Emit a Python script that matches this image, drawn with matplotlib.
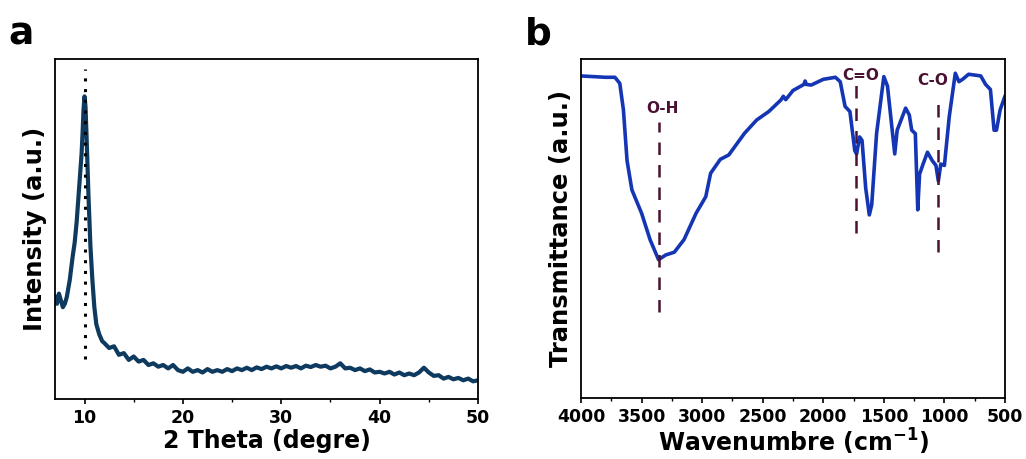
import matplotlib
matplotlib.use("Agg")
import matplotlib.pyplot as plt
from matplotlib.ticker import MultipleLocator

plt.rcParams['font.family'] = ['DejaVu Sans']
plt.rcParams['font.weight'] = 'bold'
plt.rcParams['mathtext.default'] = 'bf'

# ---- XRD data (a) ----
xrd_theta = [7.0, 7.2, 7.4, 7.6, 7.8, 8.0, 8.2, 8.5, 8.8, 9.0, 9.2, 9.4, 9.6, 9.7, 9.8, 9.9,
             10.0, 10.1, 10.2, 10.4, 10.6, 10.8, 11.0, 11.2, 11.5, 11.8,
             12.0, 12.5, 13.0, 13.5, 14.0, 14.5, 15.0, 15.5, 16.0, 16.5, 17.0, 17.5, 18.0, 18.5,
             19.0, 19.5, 20.0, 20.5, 21.0, 21.5, 22.0, 22.5, 23.0, 23.5, 24.0, 24.5, 25.0, 25.5,
             26.0, 26.5, 27.0, 27.5, 28.0, 28.5, 29.0, 29.5, 30.0, 30.5, 31.0, 31.5, 32.0, 32.5,
             33.0, 33.5, 34.0, 34.5, 35.0, 35.5, 36.0, 36.5, 37.0, 37.5, 38.0, 38.5, 39.0, 39.5,
             40.0, 40.5, 41.0, 41.5, 42.0, 42.5, 43.0, 43.5, 44.0, 44.5, 45.0, 45.5, 46.0, 46.5,
             47.0, 47.5, 48.0, 48.5, 49.0, 49.5, 50.0]
xrd_int = [0.30, 0.28, 0.31, 0.29, 0.27, 0.28, 0.30, 0.35, 0.42, 0.46, 0.52, 0.60, 0.68, 0.72, 0.78, 0.85,
           0.89, 0.86, 0.78, 0.60, 0.45, 0.35, 0.27, 0.22, 0.19, 0.17,
           0.165, 0.15, 0.155, 0.13, 0.135, 0.115, 0.125, 0.11, 0.115, 0.10, 0.105, 0.095, 0.10, 0.09,
           0.10, 0.085, 0.08, 0.09, 0.08, 0.085, 0.078, 0.088, 0.08, 0.085, 0.08, 0.088, 0.082, 0.09,
           0.085, 0.092, 0.085, 0.093, 0.088, 0.095, 0.09, 0.096, 0.09, 0.097, 0.092, 0.097, 0.09, 0.098,
           0.094, 0.10, 0.095, 0.098, 0.09, 0.095, 0.105, 0.09, 0.092, 0.085, 0.09, 0.082, 0.087, 0.078,
           0.08, 0.075, 0.08, 0.072, 0.078, 0.07, 0.075, 0.07, 0.078, 0.092, 0.078, 0.068, 0.07, 0.06,
           0.065, 0.058, 0.062, 0.055, 0.06, 0.052, 0.055]
xrd_peak = 10.0

# ---- FTIR data (b) ----
ir_wn = [4000, 3800, 3720, 3680, 3650, 3620, 3580, 3500, 3430, 3360, 3300, 3230, 3150, 3050,
         2970, 2930, 2850, 2780, 2650, 2550, 2450, 2350, 2330, 2310, 2250, 2160, 2150, 2140, 2100,
         2000, 1900, 1860, 1820, 1780, 1740, 1725, 1700, 1680, 1650, 1620, 1600, 1560, 1500,
         1470, 1440, 1410, 1390, 1320, 1290, 1270, 1240, 1220, 1205, 1180, 1140, 1100, 1070,
         1050, 1030, 1000, 960, 910, 880, 850, 800, 700, 660, 620, 590, 570, 540, 500]
ir_tr = [0.95, 0.946, 0.946, 0.928, 0.85, 0.70, 0.614, 0.545, 0.467, 0.408, 0.422, 0.43, 0.467, 0.545,
         0.594, 0.663, 0.704, 0.717, 0.781, 0.82, 0.845, 0.879, 0.89, 0.88, 0.907, 0.925, 0.935, 0.925, 0.923,
         0.94, 0.946, 0.933, 0.86, 0.845, 0.73, 0.72, 0.77, 0.76, 0.62, 0.54, 0.57, 0.78, 0.948,
         0.92, 0.82, 0.72, 0.79, 0.855, 0.835, 0.79, 0.78, 0.555, 0.66, 0.686, 0.725, 0.70, 0.686,
         0.64, 0.69, 0.686, 0.83, 0.958, 0.933, 0.94, 0.955, 0.95, 0.925, 0.91, 0.79, 0.79, 0.85, 0.89]

band_labels = ['O-H', 'C=O', 'C-O']
band_pos = [3360, 1730, 1055]
band_line_lo = [0.255, 0.486, 0.432]
band_line_hi = [0.815, 0.94, 0.894]
band_text_x = [3330, 1690, 1100]
band_text_y = [0.855, 0.95, 0.938]

ann_color = '#4a1232'

fig = plt.figure(figsize=(10.26, 4.59), dpi=100)
ax1 = fig.add_axes([0.0536, 0.1307, 0.4123, 0.7408])
ax2 = fig.add_axes([0.5663, 0.1329, 0.4132, 0.7386])

# panel a
ax1.plot(xrd_theta, xrd_int, color='#0d3a5e', lw=3.0)
ax1.plot([xrd_peak, xrd_peak], [0.118, 0.97], color='black', ls=(0, (1, 2.5)), lw=2.2)
ax1.set_xlim(7, 50)
ax1.set_ylim(0, 1)
ax1.xaxis.set_major_locator(MultipleLocator(10))
ax1.xaxis.set_minor_locator(MultipleLocator(5))
ax1.set_yticks([])
ax1.set_xlabel('2 Theta (degre)', fontsize=17, fontweight='bold', labelpad=1)
ax1.set_ylabel('Intensity (a.u.)', fontsize=17.5, fontweight='bold', labelpad=6)

# panel b
ax2.plot(ir_wn, ir_tr, color='#1536b4', lw=2.6)
for lab, p, lo, hi, tx, ty in zip(band_labels, band_pos, band_line_lo, band_line_hi, band_text_x, band_text_y):
    ax2.plot([p, p], [lo, hi], color=ann_color, ls=(0, (5, 4)), lw=1.8)
    ax2.text(tx, ty, lab, color=ann_color, fontsize=11, fontweight='bold', ha='center', va='center')
ax2.set_xlim(4000, 500)
ax2.set_ylim(0, 1)
ax2.xaxis.set_major_locator(MultipleLocator(500))
ax2.xaxis.set_minor_locator(MultipleLocator(250))
ax2.set_yticks([])
ax2.set_xlabel('Wavenumbre (cm$^{-1}$)', fontsize=17, fontweight='bold', labelpad=0)
ax2.set_ylabel('Transmittance (a.u.)', fontsize=17.5, fontweight='bold', labelpad=6)

for ax in (ax1, ax2):
    for s in ax.spines.values():
        s.set_linewidth(1.3)
    ax.tick_params(axis='x', which='major', length=3.5, width=1.2, labelsize=12.5, pad=4)
    ax.tick_params(axis='x', which='minor', length=2.5, width=1.0)
    for t in ax.get_xticklabels():
        t.set_fontweight('bold')

fig.text(0.008, 0.965, 'a', fontsize=27, fontweight='bold', va='top')
fig.text(0.512, 0.965, 'b', fontsize=27, fontweight='bold', va='top')

fig.savefig('out.png', dpi=100)
